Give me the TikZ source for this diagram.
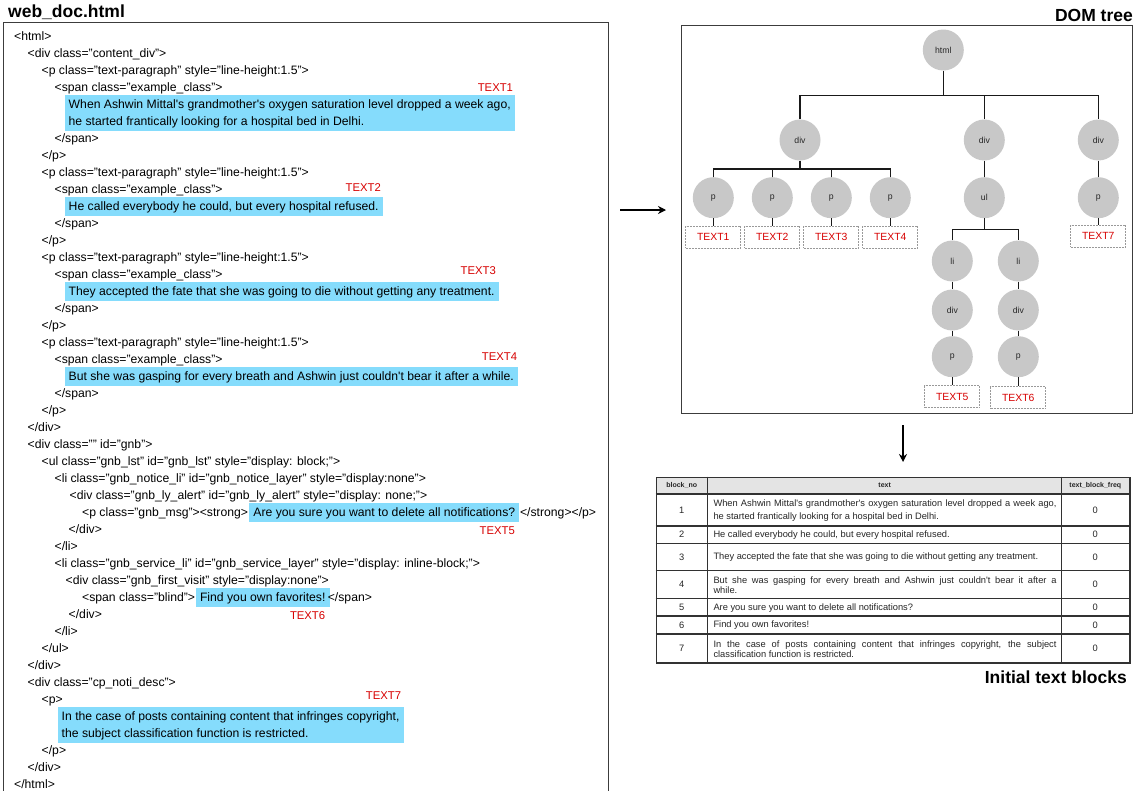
\documentclass[tikz,border=0pt]{standalone}
\usepackage{fontspec}
\setmainfont{Liberation Sans}
\usetikzlibrary{fit,backgrounds,arrows.meta}
\definecolor{hlblue}{RGB}{133,220,252}
\definecolor{lblred}{RGB}{215,0,0}
\definecolor{nodegray}{RGB}{200,200,200}
\definecolor{framegray}{RGB}{60,60,60}
\definecolor{hdrgray}{RGB}{228,228,228}
\definecolor{tblline}{RGB}{50,50,50}
\newcommand\codeln[3]{\node[code] (l#1) at (#2,{40+(#1-1)*17}) {#3};}
\newcommand\sq{\textquotesingle}
\begin{document}
\begin{tikzpicture}[x=1pt,y=-1pt,
  code/.style={anchor=base west, inner sep=0pt, text height=11pt, text depth=3.5pt, font=\fontsize{12.2}{13}\selectfont},
  hl/.style={fill=hlblue, inner xsep=4pt, inner ysep=2pt},
  lbl/.style={text=lblred, inner sep=0pt, font=\fontsize{11.3}{13}\selectfont, anchor=base east},
  ttl/.style={font=\fontsize{17.5}{20}\selectfont\bfseries, inner sep=0pt},
  tn/.style={circle, fill=nodegray, minimum size=41pt, inner sep=0pt, font=\fontsize{8.7}{10}\selectfont, text=black!85},
  tb/.style={draw=black!40, dash pattern=on 2pt off 1pt, line width=0.7pt, fill=white, minimum width=55pt, minimum height=22pt, inner sep=0pt, text=lblred, font=\fontsize{10.4}{12}\selectfont},
  edge/.style={line width=1.4pt, black!90},
  arr/.style={line width=1.8pt, -{Stealth[length=8pt,width=8pt]}},
  hdr/.style={font=\fontsize{7}{8}\selectfont\bfseries, inner sep=0pt, text=black!85},
  cell/.style={font=\fontsize{9.3}{10}\selectfont, inner sep=0pt, text=black!85},
  tline/.style={line width=1.3pt, tblline}
]
\useasboundingbox (0,0) rectangle (1139,790);

% ---------- code panel ----------
\node[ttl, anchor=west] (title1) at (8,12) {web\_doc.html};
\node[draw=framegray, line width=1.2pt, anchor=north west, minimum width=605pt, minimum height=772pt, inner sep=0pt] (codebox) at (3,21.5) {};

\codeln{1}{14}{<html>}
\codeln{2}{27.5}{<div class="content\_div">}
\codeln{3}{41.5}{<p class="text-paragraph" style="line-height:1.5">}
\codeln{4}{54.5}{<span class="example\_class">}
\codeln{5}{68.5}{When Ashwin Mittal\sq s grandmother\sq s oxygen saturation level dropped a week ago,}
\codeln{6}{68.5}{he started frantically looking for a hospital bed in Delhi.}
\codeln{7}{54.5}{</span>}
\codeln{8}{41.5}{</p>}
\codeln{9}{41.5}{<p class="text-paragraph" style="line-height:1.5">}
\codeln{10}{54.5}{<span class="example\_class">}
\codeln{11}{68.5}{He called everybody he could, but every hospital refused.}
\codeln{12}{54.5}{</span>}
\codeln{13}{41.5}{</p>}
\codeln{14}{41.5}{<p class="text-paragraph" style="line-height:1.5">}
\codeln{15}{54.5}{<span class="example\_class">}
\codeln{16}{68.5}{They accepted the fate that she was going to die without getting any treatment.}
\codeln{17}{54.5}{</span>}
\codeln{18}{41.5}{</p>}
\codeln{19}{41.5}{<p class="text-paragraph" style="line-height:1.5">}
\codeln{20}{54.5}{<span class="example\_class">}
\codeln{21}{68.5}{But she was gasping for every breath and Ashwin just couldn\sq t bear it after a while.}
\codeln{22}{54.5}{</span>}
\codeln{23}{41.5}{</p>}
\codeln{24}{27.5}{</div>}
\codeln{25}{27.5}{<div class="" id="gnb">}
\codeln{26}{41.5}{<ul class="gnb\_lst" id="gnb\_lst" style="display: block;">}
\codeln{27}{54.5}{<li class="gnb\_notice\_li" id="gnb\_notice\_layer" style="display:none">}
\codeln{28}{69.5}{<div class="gnb\_ly\_alert" id="gnb\_ly\_alert" style="display: none;">}
\codeln{29}{82}{<p class="gnb\_msg"><strong>}
\node[code, xshift=5pt] (l29h) at (l29.base east) {Are you sure you want to delete all notifications?};
\node[code, xshift=4.5pt] (l29e) at (l29h.base east) {</strong></p>};
\codeln{30}{68.5}{</div>}
\codeln{31}{54.5}{</li>}
\codeln{32}{54.5}{<li class="gnb\_service\_li" id="gnb\_service\_layer" style="display: inline-block;">}
\codeln{33}{65.5}{<div class="gnb\_first\_visit" style="display:none">}
\codeln{34}{82}{<span class="blind">}
\node[code, xshift=4.5pt] (l34h) at (l34.base east) {Find you own favorites!};
\node[code, xshift=2pt] (l34e) at (l34h.base east) {</span>};
\codeln{35}{68.5}{</div>}
\codeln{36}{54.5}{</li>}
\codeln{37}{41.5}{</ul>}
\codeln{38}{27.5}{</div>}
\codeln{39}{27.5}{<div class="cp\_noti\_desc">}
\codeln{40}{41.5}{<p>}
\codeln{41}{61.5}{In the case of posts containing content that infringes copyright,}
\codeln{42}{61.5}{the subject classification function is restricted.}
\codeln{43}{41.5}{</p>}
\codeln{44}{27.5}{</div>}
\codeln{45}{14}{</html>}

\begin{scope}[on background layer]
  \fill[white] (0,0) rectangle (1139,790);
  \node[hl, fit=(l5)(l6)] (hl1) {};
  \node[hl, fit=(l11)] (hl2) {};
  \node[hl, fit=(l16)] (hl3) {};
  \node[hl, fit=(l21)] (hl4) {};
  \node[hl, fit=(l29h)] (hl5) {};
  \node[hl, fit=(l34h)] (hl6) {};
  \node[hl, fit=(l41)(l42)] (hl7) {};
\end{scope}

\node[lbl, xshift=-2pt] (t1) at (hl1.east |- l4.base) {TEXT1};
\node[lbl, xshift=-2pt, yshift=1.7pt] (t2) at (hl2.east |- l10.base) {TEXT2};
\node[lbl, xshift=-3pt, yshift=3.3pt] (t3) at (hl3.east |- l15.base) {TEXT3};
\node[lbl, xshift=-1pt, yshift=2.3pt] (t4) at (hl4.east |- l20.base) {TEXT4};
\node[lbl, xshift=-4.5pt, yshift=-1.7pt] (t5) at (hl5.east |- l30.base) {TEXT5};
\node[lbl, xshift=-4.5pt, yshift=-1.7pt] (t6) at (hl6.east |- l35.base) {TEXT6};
\node[lbl, xshift=-2.5pt, yshift=3.3pt] (t7) at (hl7.east |- l40.base) {TEXT7};

% ---------- arrows ----------
\coordinate (a1s) at (620,210);
\coordinate (a1e) at (666,210);
\draw[arr] (a1s) -- (a1e);
\coordinate (a2s) at (903,425);
\coordinate (a2e) at (903,462);
\draw[arr] (a2s) -- (a2e);

% ---------- DOM tree ----------
\node[ttl, anchor=east] (title2) at (1133,15) {DOM tree};
\node[draw=framegray, line width=1.2pt, anchor=north west, minimum width=451pt, minimum height=388pt, inner sep=0pt] (domframe) at (680.7,25) {};

\node[tn] (html) at (943.3,50) {html};
\node[tn] (d1) at (800,140) {div};
\node[tn] (d2) at (984.3,140) {div};
\node[tn] (d3) at (1098.3,140) {div};
\node[tn] (p1) at (713.3,197.7) {p};
\node[tn] (p2) at (772.3,197.7) {p};
\node[tn] (p3) at (831.3,197.7) {p};
\node[tn] (p4) at (890.3,197.7) {p};
\node[tn] (ul) at (984.3,197.7) {ul};
\node[tn] (li1) at (952.3,261) {li};
\node[tn] (li2) at (1018.3,261) {li};
\node[tn] (dv1) at (952.3,310) {div};
\node[tn] (dv2) at (1018.3,310) {div};
\node[tn] (pp1) at (952.3,356.7) {p};
\node[tn] (pp2) at (1018.3,356.7) {p};
\node[tn] (p7) at (1098.3,197.7) {p};

\node[tb] (tb1) at (713.3,237.2) {TEXT1};
\node[tb] (tb2) at (772.3,237.2) {TEXT2};
\node[tb] (tb3) at (831.3,237.2) {TEXT3};
\node[tb] (tb4) at (890.3,237.2) {TEXT4};
\node[tb] (tb5) at (952.3,396.5) {TEXT5};
\node[tb] (tb6) at (1018.3,397.5) {TEXT6};
\node[tb] (tb7) at (1098.3,236.2) {TEXT7};

\coordinate (b1) at (943.3,95.7);
\coordinate (b2) at (800,169);
\coordinate (b3) at (984.3,229.3);
\draw[edge] (html) -- (b1);
\draw[edge] (d1.north) |- (b1) -| (d3.north);
\draw[edge] (d2.north) -- (d2.north |- b1);
\draw[edge] (d1) -- (b2);
\draw[edge] (p1.north) |- (b2) -| (p4.north);
\draw[edge] (p2.north) -- (p2.north |- b2);
\draw[edge] (p3.north) -- (p3.north |- b2);
\draw[edge] (d2) -- (ul);
\draw[edge] (ul) -- (b3);
\draw[edge] (li1.north) |- (b3) -| (li2.north);
\draw[edge] (li1) -- (dv1);
\draw[edge] (dv1) -- (pp1);
\draw[edge] (li2) -- (dv2);
\draw[edge] (dv2) -- (pp2);
\draw[edge] (d3) -- (p7);
\draw[edge] (p1) -- (tb1);
\draw[edge] (p2) -- (tb2);
\draw[edge] (p3) -- (tb3);
\draw[edge] (p4) -- (tb4);
\draw[edge] (pp1) -- (tb5);
\draw[edge] (pp2) -- (tb6);
\draw[edge] (p7) -- (tb7);

% ---------- table ----------
\fill[hdrgray] (655.7,476.7) rectangle (1129,494);
\node[draw=tblline, line width=1.5pt, anchor=north west, minimum width=473.3pt, minimum height=185.6pt, inner sep=0pt] (tbl) at (655.7,476.7) {};
\foreach \yy in {494,526,543.3,570.7,598.7,616,634}
  \draw[tline] (tbl.west |- 0,\yy) -- (tbl.east |- 0,\yy);
\foreach \xx in {707.7,1061.7}
  \draw[tline] (tbl.north -| \xx,0) -- (tbl.south -| \xx,0);

\node[hdr] (hc1) at (681.7,485.3) {block\_no};
\node[hdr] (hc2) at (884.7,485.3) {text};
\node[hdr] (hc3) at (1095.3,485.3) {text\_block\_freq};

\foreach \nn/\yy in {1/510,2/534.7,3/557,4/584.7,5/607.3,6/625,7/648.2}{
  \node[cell] (num\nn) at (681.7,\yy) {\nn};
  \node[cell] (frq\nn) at (1095.3,\yy) {0};
}
\node[cell, anchor=west, align=left, font=\fontsize{9.3}{13.4}\selectfont] (r1) at (713.3,510.5)
  {\makebox[343pt][s]{When Ashwin Mittal\sq s grandmother\sq s oxygen saturation level dropped a week ago,}\\he started frantically looking for a hospital bed in Delhi.};
\node[cell, anchor=west] (r2) at (713.3,535.2) {He called everybody he could, but every hospital refused.};
\node[cell, anchor=west] (r3) at (713.3,557.5) {They accepted the fate that she was going to die without getting any treatment.};
\node[cell, anchor=west, align=left] (r4) at (713.3,585.2)
  {\makebox[343pt][s]{But she was gasping for every breath and Ashwin just couldn\sq t bear it after a}\\while.};
\node[cell, anchor=west] (r5) at (713.3,607.8) {Are you sure you want to delete all notifications?};
\node[cell, anchor=west] (r6) at (713.3,625.5) {Find you own favorites!};
\node[cell, anchor=west, align=left] (r7) at (713.3,648.7)
  {\makebox[343pt][s]{In the case of posts containing content that infringes copyright, the subject}\\classification function is restricted.};

\node[ttl, anchor=east] (title3) at (1127,677) {Initial text blocks};
\end{tikzpicture}
\end{document}
